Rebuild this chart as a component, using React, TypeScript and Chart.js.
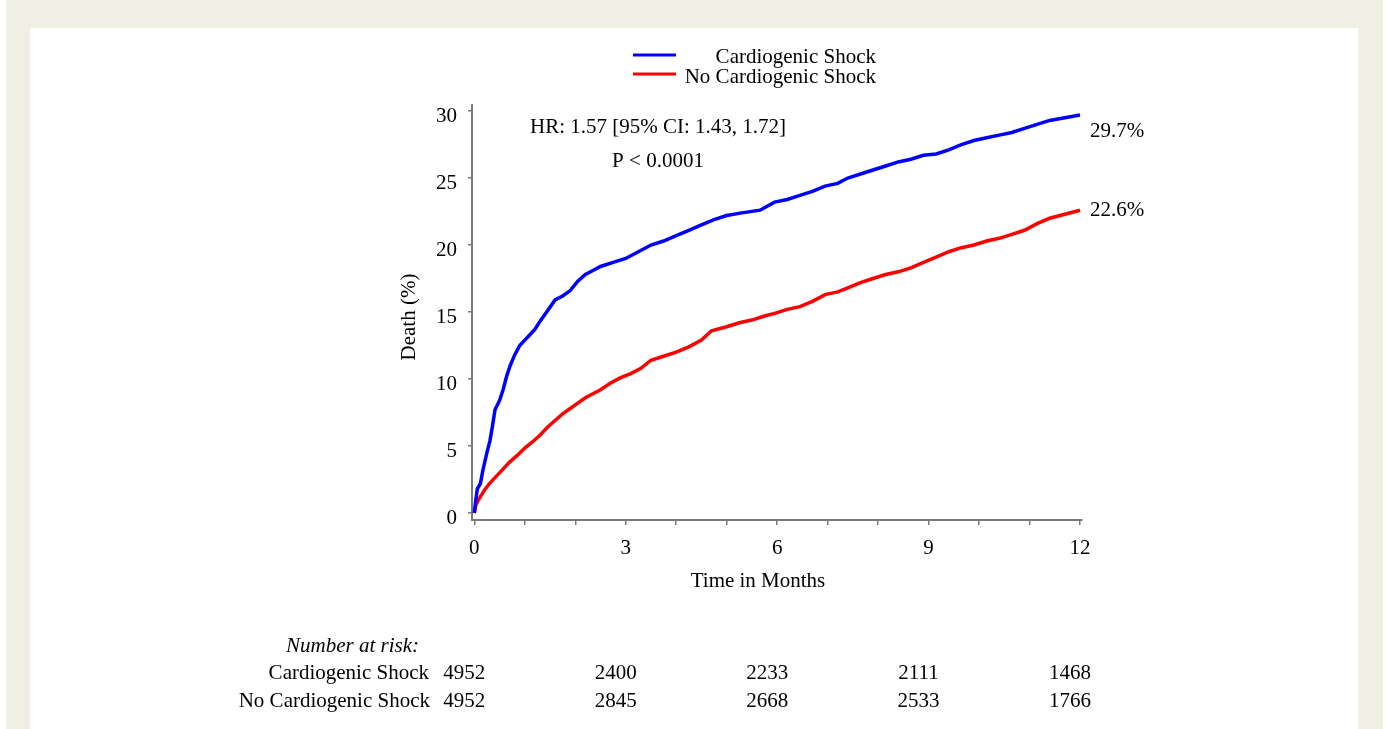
import React, { useEffect, useRef } from 'react';
import { Chart, registerables } from 'chart.js';

Chart.register(...registerables);

// ---- Data ----
const seriesNames = ['Cardiogenic Shock', 'No Cardiogenic Shock'];
const seriesColors = ['#0000ff', '#ff0000'];

const shockT = [0, 0.03, 0.06, 0.12, 0.17, 0.25, 0.31, 0.36, 0.41, 0.5, 0.57, 0.64, 0.71, 0.8, 0.9, 1.0, 1.1, 1.2, 1.3, 1.45, 1.6, 1.75, 1.9, 2.05, 2.2, 2.35, 2.5, 2.75, 3.0, 3.25, 3.5, 3.75, 4.0, 4.25, 4.5, 4.75, 5.0, 5.3, 5.66, 5.95, 6.2, 6.45, 6.7, 6.95, 7.2, 7.4, 7.65, 7.9, 8.15, 8.4, 8.65, 8.9, 9.15, 9.4, 9.65, 9.9, 10.15, 10.4, 10.65, 10.9, 11.15, 11.4, 11.7, 12.0];
const shockV = [0, 1.0, 1.8, 2.2, 3.2, 4.5, 5.4, 6.5, 7.7, 8.4, 9.2, 10.2, 11.0, 11.8, 12.5, 12.9, 13.3, 13.7, 14.3, 15.1, 15.9, 16.2, 16.6, 17.3, 17.8, 18.1, 18.4, 18.7, 19.0, 19.5, 20.0, 20.3, 20.7, 21.1, 21.5, 21.9, 22.2, 22.4, 22.6, 23.2, 23.4, 23.7, 24.0, 24.4, 24.6, 25.0, 25.3, 25.6, 25.9, 26.2, 26.4, 26.7, 26.8, 27.1, 27.5, 27.8, 28.0, 28.2, 28.4, 28.7, 29.0, 29.3, 29.5, 29.7];

const noShockT = [0, 0.03, 0.1, 0.2, 0.3, 0.4, 0.55, 0.7, 0.85, 1.0, 1.15, 1.3, 1.45, 1.6, 1.75, 1.9, 2.05, 2.2, 2.35, 2.5, 2.7, 2.9, 3.1, 3.3, 3.5, 3.75, 4.0, 4.25, 4.5, 4.7, 5.0, 5.25, 5.5, 5.75, 5.95, 6.2, 6.45, 6.7, 6.95, 7.2, 7.4, 7.65, 7.9, 8.15, 8.4, 8.65, 8.9, 9.15, 9.4, 9.65, 9.9, 10.15, 10.4, 10.65, 10.9, 11.15, 11.4, 11.7, 12.0];
const noShockV = [0, 0.6, 1.1, 1.7, 2.2, 2.6, 3.2, 3.8, 4.3, 4.85, 5.3, 5.8, 6.4, 6.9, 7.4, 7.8, 8.2, 8.6, 8.9, 9.2, 9.7, 10.1, 10.4, 10.8, 11.4, 11.7, 12.0, 12.4, 12.9, 13.6, 13.9, 14.2, 14.4, 14.7, 14.9, 15.2, 15.4, 15.8, 16.3, 16.5, 16.8, 17.2, 17.5, 17.8, 18.0, 18.3, 18.7, 19.1, 19.5, 19.8, 20.0, 20.3, 20.5, 20.8, 21.1, 21.6, 22.0, 22.3, 22.6];

const xTickValues = [0, 1, 2, 3, 4, 5, 6, 7, 8, 9, 10, 11, 12];
const yTickValues = [0, 5, 10, 15, 20, 25, 30];
const riskMonths = [0, 3, 6, 9, 12];
const riskShock = [4952, 2400, 2233, 2111, 1468];
const riskNoShock = [4952, 2845, 2668, 2533, 1766];
const endLabels = ['29.7%', '22.6%'];
const hrText = 'HR: 1.57 [95% CI: 1.43, 1.72]';
const pText = 'P < 0.0001';
const xTitle = 'Time in Months';
const yTitle = 'Death (%)';
const riskTitle = 'Number at risk:';

const FONT = '"Liberation Serif", "Times New Roman", serif';

const textPlugin = {
  id: 'kmText',
  afterDraw(chart: any) {
    const ctx = chart.ctx as CanvasRenderingContext2D;
    const xs = chart.scales.x;
    ctx.save();
    ctx.fillStyle = '#000';
    ctx.font = `21px ${FONT}`;
    ctx.textBaseline = 'alphabetic';

    // legend
    const legendY = [55, 74];
    const legendBase = [63, 83];
    for (let i = 0; i < 2; i++) {
      ctx.strokeStyle = seriesColors[i];
      ctx.lineWidth = 3;
      ctx.beginPath();
      ctx.moveTo(633, legendY[i]);
      ctx.lineTo(676, legendY[i]);
      ctx.stroke();
      ctx.textAlign = 'right';
      ctx.fillText(seriesNames[i], 876, legendBase[i]);
    }

    // annotations
    ctx.textAlign = 'center';
    ctx.fillText(hrText, 658, 133);
    ctx.fillText(pText, 658, 167);

    // end labels
    ctx.textAlign = 'left';
    const endX = xs.getPixelForValue(12) + 10;
    ctx.fillText(endLabels[0], endX, 137);
    ctx.fillText(endLabels[1], endX, 216);

    // axis titles
    ctx.textAlign = 'center';
    ctx.fillText(xTitle, 758, 587);
    ctx.save();
    ctx.translate(409, 317);
    ctx.rotate(-Math.PI / 2);
    ctx.textBaseline = 'middle';
    ctx.fillText(yTitle, 0, 0);
    ctx.restore();

    // risk table
    ctx.font = `italic 21px ${FONT}`;
    ctx.textAlign = 'right';
    ctx.fillText(riskTitle, 419, 652);
    ctx.font = `21px ${FONT}`;
    ctx.fillText(seriesNames[0], 429, 679);
    ctx.fillText(seriesNames[1], 430, 707);
    ctx.textAlign = 'center';
    riskMonths.forEach((m, i) => {
      const px = xs.getPixelForValue(m) - 10;
      ctx.fillText(String(riskShock[i]), px, 679);
      ctx.fillText(String(riskNoShock[i]), px, 707);
    });
    ctx.restore();
  },
};

export default function App() {
  const ref = useRef<HTMLCanvasElement | null>(null);

  useEffect(() => {
    if (!ref.current) return;
    const chart = new Chart(ref.current, {
      type: 'line',
      data: {
        datasets: [
          {
            label: seriesNames[0],
            data: shockT.map((t, i) => ({ x: t, y: shockV[i] })),
            borderColor: seriesColors[0],
            borderWidth: 3.5,
            pointRadius: 0,
            tension: 0,
            fill: false,
          },
          {
            label: seriesNames[1],
            data: noShockT.map((t, i) => ({ x: t, y: noShockV[i] })),
            borderColor: seriesColors[1],
            borderWidth: 3.5,
            pointRadius: 0,
            tension: 0,
            fill: false,
          },
        ],
      },
      options: {
        responsive: false,
        animation: false,
        layout: { padding: { left: 395, top: 105, right: 304, bottom: 100 } },
        plugins: { legend: { display: false }, tooltip: { enabled: false }, title: { display: false } },
        scales: {
          x: {
            type: 'linear',
            min: -0.046,
            max: 12.04,
            afterBuildTicks: (s: any) => {
              s.ticks = xTickValues.map((v) => ({ value: v }));
            },
            afterFit: (s: any) => {
              s.height = 109;
            },
            ticks: {
              autoSkip: false,
              maxRotation: 0,
              color: '#000',
              font: { family: FONT, size: 21 },
              padding: 11,
              callback: (v: any) => (Number(v) % 3 === 0 ? String(v) : ''),
            },
            grid: { drawOnChartArea: false, drawTicks: true, tickLength: 5, color: '#7a7a7a', lineWidth: 1.5 },
            border: { display: true, color: '#7a7a7a', width: 2 },
          },
          y: {
            type: 'linear',
            min: -0.522,
            max: 30.45,
            afterBuildTicks: (s: any) => {
              s.ticks = yTickValues.map((v) => ({ value: v }));
            },
            afterFit: (s: any) => {
              s.width = 77;
            },
            ticks: {
              color: '#000',
              font: { family: FONT, size: 21 },
              padding: 11,
              labelOffset: 5,
            },
            grid: { drawOnChartArea: false, drawTicks: true, tickLength: 4, color: '#7a7a7a', lineWidth: 1.5 },
            border: { display: true, color: '#7a7a7a', width: 2 },
          },
        },
      },
      plugins: [textPlugin],
    } as any);
    return () => chart.destroy();
  }, []);

  return (
    <div style={{ position: 'absolute', left: 0, top: 0, width: 1386, height: 729, overflow: 'hidden', background: '#fff' }}>
      <div style={{ position: 'absolute', left: 6, top: 0, width: 1377, height: 729, background: '#efefe3' }} />
      <div style={{ position: 'absolute', left: 30, top: 28, width: 1328, height: 701, background: '#fff' }} />
      <canvas ref={ref} width={1386} height={729} style={{ position: 'absolute', left: 0, top: 0, width: 1386, height: 729 }} />
    </div>
  );
}
